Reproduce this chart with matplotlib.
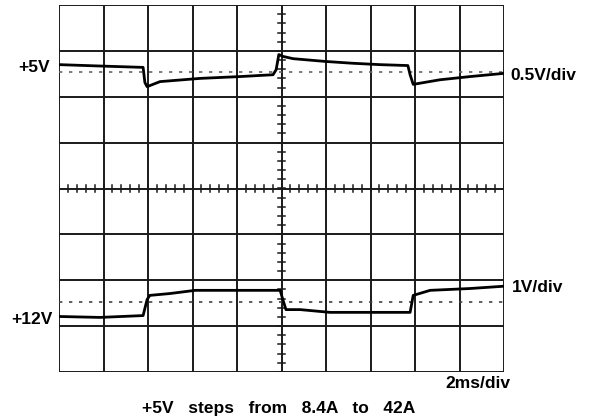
import numpy as np
import matplotlib
matplotlib.use('Agg')
import matplotlib.pyplot as plt

# scope traces, in divisions (x: 0..10, y: -4..4)
v5_x = [0, 0.92, 1.89, 1.93, 1.98, 2.27, 3.17, 4.07, 4.81, 4.88, 4.94, 5.03, 5.26, 5.98, 6.6, 7.21, 7.84, 7.89, 7.96, 8.56, 9.24, 10]
v5_y = [2.70, 2.67, 2.64, 2.31, 2.22, 2.33, 2.40, 2.44, 2.48, 2.59, 2.92, 2.88, 2.83, 2.77, 2.73, 2.70, 2.68, 2.48, 2.27, 2.37, 2.44, 2.51]
v12_x = [0, 0.92, 1.89, 1.98, 2.04, 2.49, 3.06, 4.0, 4.97, 5.03, 5.10, 5.42, 6.09, 7.0, 7.89, 7.96, 8.34, 9.24, 10]
v12_y = [-2.79, -2.81, -2.77, -2.42, -2.33, -2.29, -2.22, -2.22, -2.22, -2.42, -2.64, -2.64, -2.70, -2.70, -2.70, -2.33, -2.22, -2.18, -2.13]
ref5 = 2.55
ref12 = -2.48

plt.rcParams['font.family'] = ['Liberation Sans', 'DejaVu Sans']

fig = plt.figure(figsize=(5.92, 4.18), dpi=100)
ax = fig.add_axes([59/592, 46/418, 445/592, 367/418])
ax.set_xlim(0, 10)
ax.set_ylim(-4, 4)
ax.axis('off')

gc = '#1a1a1a'
for gx in range(11):
    ax.plot([gx, gx], [-4, 4], color=gc, lw=1.4, zorder=1)
for gy in range(-4, 5):
    ax.plot([0, 10], [gy, gy], color=gc, lw=1.4, zorder=1)

# minor ticks on centre axes
for t in np.arange(0, 10.01, 0.2):
    ax.plot([t, t], [-0.07, 0.07], color=gc, lw=1.1, zorder=1)
for t in np.arange(-4, 4.01, 0.2):
    ax.plot([4.93, 5.07], [t, t], color=gc, lw=1.1, zorder=1)

# reference levels
ax.plot([0, 10], [ref5, ref5], color='#666666', lw=1.2, ls=(0, (2, 4)), zorder=2)
ax.plot([0, 10], [ref12, ref12], color='#444444', lw=1.2, ls=(0, (2, 4)), zorder=2)

ax.plot(v5_x, v5_y, color='black', lw=2, zorder=3)
ax.plot(v12_x, v12_y, color='black', lw=2, zorder=3)

fs = 12.5
fig.text(50/592, 1 - 68/418, '+5V', ha='right', va='center', fontsize=fs, fontweight='bold')
fig.text(510/592, 1 - 75/418, '0.5V/div', ha='left', va='center', fontsize=fs, fontweight='bold')
fig.text(512/592, 1 - 287/418, '1V/div', ha='left', va='center', fontsize=fs, fontweight='bold')
fig.text(53/592, 1 - 320/418, '+12V', ha='right', va='center', fontsize=fs, fontweight='bold')
fig.text(510/592, 1 - 383/418, '2ms/div', ha='right', va='center', fontsize=fs, fontweight='bold')
fig.text(279/592, 1 - 408/418, '+5V   steps   from   8.4A   to   42A', ha='center', va='center',
         fontsize=fs, fontweight='bold')

fig.savefig('out.png', dpi=100)
